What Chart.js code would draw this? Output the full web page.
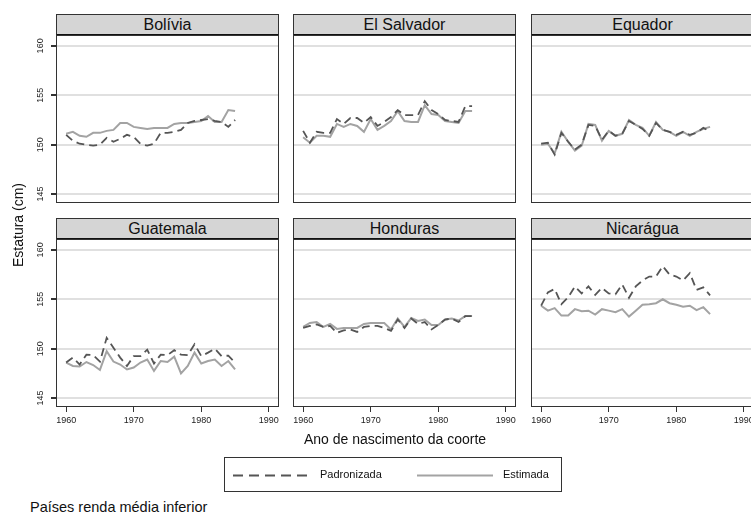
<!DOCTYPE html>
<html>
<head>
<meta charset="utf-8">
<script src="https://cdn.jsdelivr.net/npm/chart.js@4.4.1/dist/chart.umd.min.js"></script>
<style>
  html, body { margin:0; padding:0; }
  body { width:751px; height:515px; overflow:hidden; background:#fff; position:relative;
         font-family:'Liberation Sans', Arial, sans-serif; color:#111; }
  .hdr { position:absolute; box-sizing:border-box; background:#d5d5d5; border:1px solid #333;
         border-bottom:2px solid #111; text-align:center; font-size:16px; }
  canvas { position:absolute; }
  .txt { position:absolute; white-space:nowrap; }
</style>
</head>
<body>
<script>
// ---------- data ----------
const years = [1960,1961,1962,1963,1964,1965,1966,1967,1968,1969,1970,1971,1972,
               1973,1974,1975,1976,1977,1978,1979,1980,1981,1982,1983,1984,1985];
const countries = ['Bolívia','El Salvador','Equador','Guatemala','Honduras','Nicarágua'];
const seriesNames = ['Padronizada','Estimada'];
const yTicks = [145,150,155,160];
const xTicks = [1960,1970,1980,1990];

const bolPad = [151.0,150.4,150.1,150.0,149.9,150.0,150.7,150.3,150.6,151.0,150.8,150.1,149.9,150.1,151.2,151.2,151.3,151.5,152.2,152.4,152.5,152.6,152.4,152.3,151.8,152.5];
const bolEst = [151.1,151.3,150.9,150.8,151.2,151.2,151.4,151.5,152.2,152.2,151.8,151.7,151.6,151.7,151.7,151.7,152.1,152.2,152.2,152.3,152.4,152.9,152.3,152.3,153.5,153.4];
const elsPad = [151.4,150.2,151.3,151.2,151.2,152.6,152.1,152.7,152.7,152.2,152.8,151.9,152.3,152.8,153.5,153.0,153.0,153.0,154.4,153.5,153.1,152.5,152.4,152.3,153.9,153.9];
const elsEst = [150.75,150.2,150.9,150.9,150.8,152.1,151.8,152.1,151.9,151.3,152.6,151.5,151.9,152.4,153.4,152.4,152.3,152.3,154.0,153.1,153.0,152.4,152.3,152.2,153.4,153.4];
const equPad = [150.1,150.2,149.0,151.2,150.3,149.5,150.0,152.0,151.9,150.5,151.4,150.9,151.1,152.4,152.0,151.6,150.9,152.2,151.5,151.3,151.0,151.3,151.0,151.2,151.7,151.35];
const equEst = [150.0,150.1,149.1,151.3,150.3,149.4,149.9,152.1,152.0,150.4,151.4,150.9,151.1,152.5,152.0,151.7,150.9,152.3,151.5,151.3,150.9,151.3,150.9,151.3,151.6,151.8];
const guaPad = [148.6,149.1,148.4,149.4,149.35,148.7,151.1,150.1,149.1,148.25,149.25,149.25,149.9,148.5,149.4,149.35,149.85,149.4,149.35,150.45,149.25,149.6,150.0,149.25,149.3,148.6];
const guaEst = [148.6,148.25,148.2,148.65,148.35,147.85,149.75,148.7,148.4,147.9,148.1,148.6,148.9,147.75,148.75,148.65,149.2,147.5,148.25,149.6,148.5,148.75,148.9,148.25,148.75,147.9];
const honPad = [152.1,152.3,152.45,152.2,152.3,151.6,151.85,151.95,151.7,152.2,152.3,152.3,152.1,151.8,152.95,152.1,153.05,152.5,152.7,151.95,152.4,152.95,153.05,152.7,153.3,153.3];
const honEst = [152.2,152.6,152.7,152.2,152.5,152.0,152.1,152.1,152.1,152.5,152.6,152.6,152.6,151.95,153.05,152.2,153.1,152.8,152.95,152.4,152.4,152.95,153.05,152.85,153.3,153.3];
const nicPad = [154.35,155.7,156.05,154.5,155.2,156.3,155.6,156.3,155.45,156.15,155.6,155.5,156.5,155.15,156.3,156.9,157.3,157.3,158.35,157.5,157.3,156.9,157.65,155.95,156.2,155.4];
const nicEst = [154.35,153.85,154.1,153.35,153.35,154.0,153.8,153.85,153.45,154.0,153.85,153.7,154.0,153.25,153.85,154.45,154.5,154.6,155.0,154.6,154.45,154.25,154.35,153.9,154.2,153.5];

const padSeries = [bolPad, elsPad, equPad, guaPad, honPad, nicPad];
const estSeries = [bolEst, elsEst, equEst, guaEst, honEst, nicEst];

// ---------- layout ----------
const COL_X = [56, 293, 531];
const ROW_Y = [35, 239];
const PW = 223, PH = 168, HEAD = 21;
const PAD_COLOR = '#555555', EST_COLOR = '#a3a3a3';

const framePlugin = {
  id: 'frame',
  afterDraw(chart) {
    const a = chart.chartArea, ctx = chart.ctx;
    ctx.save();
    ctx.strokeStyle = '#333';
    ctx.lineWidth = 1;
    ctx.strokeRect(Math.round(a.left) + 0.5, Math.round(a.top) + 0.5,
                   Math.round(a.right - a.left) - 1, Math.round(a.bottom - a.top) - 1);
    if (chart.options.plugins.frame && chart.options.plugins.frame.yLabels) {
      const ys = chart.scales.y;
      ctx.fillStyle = '#222';
      ctx.font = '9px "Liberation Sans", Arial, sans-serif';
      ctx.textAlign = 'center';
      ctx.textBaseline = 'middle';
      ys.ticks.forEach(t => {
        const py = ys.getPixelForValue(t.value);
        ctx.save();
        ctx.translate(a.left - 15, py);
        ctx.rotate(-Math.PI / 2);
        ctx.fillText(String(t.value), 0, 0);
        ctx.restore();
      });
    }
    ctx.restore();
  }
};

countries.forEach((name, i) => {
  const col = i % 3, row = Math.floor(i / 3);
  const hdr = document.createElement('div');
  hdr.className = 'hdr';
  hdr.style.left = COL_X[col] + 'px';
  hdr.style.top = (ROW_Y[row] - HEAD) + 'px';
  hdr.style.width = PW + 'px';
  hdr.style.height = (HEAD + 1) + 'px';
  hdr.style.lineHeight = (HEAD - 2) + 'px';
  hdr.textContent = name;
  document.body.appendChild(hdr);

  const L = col === 0 ? 45 : 10, R = 20, T = 2, B = 30;
  const cv = document.createElement('canvas');
  cv.width = L + PW + R; cv.height = T + PH + B;
  cv.style.left = (COL_X[col] - L) + 'px';
  cv.style.top = (ROW_Y[row] - T) + 'px';
  cv.style.width = cv.width + 'px'; cv.style.height = cv.height + 'px';
  document.body.appendChild(cv);

  const showX = row === 1, showY = col === 0;
  new Chart(cv.getContext('2d'), {
    type: 'line',
    data: {
      datasets: [
        { label: seriesNames[0], data: years.map((y, k) => ({x: y, y: padSeries[i][k]})),
          borderColor: PAD_COLOR, borderWidth: 1.8, borderDash: [8, 5], pointRadius: 0, tension: 0, fill: false },
        { label: seriesNames[1], data: years.map((y, k) => ({x: y, y: estSeries[i][k]})),
          borderColor: EST_COLOR, borderWidth: 2, pointRadius: 0, tension: 0, fill: false }
      ]
    },
    options: {
      responsive: false, animation: false, devicePixelRatio: 1,
      layout: { padding: { left: 0, right: R, top: T, bottom: 0 } },
      plugins: { legend: { display: false }, tooltip: { enabled: false }, frame: { yLabels: showY } },
      scales: {
        x: {
          type: 'linear', min: 1958.5, max: 1991.5,
          afterBuildTicks: s => { s.ticks = xTicks.map(v => ({ value: v })); },
          afterFit: s => { s.height = B; },
          border: { display: false },
          grid: { drawOnChartArea: false, drawTicks: showX, tickLength: 5, tickColor: '#333', display: showX },
          ticks: { display: showX, maxRotation: 0, autoSkip: false, padding: 3, color: '#222',
                   font: { family: '"Liberation Sans", Arial, sans-serif', size: 9 },
                   callback: v => String(v) }
        },
        y: {
          min: 144.1, max: 161.1,
          afterBuildTicks: s => { s.ticks = yTicks.map(v => ({ value: v })); },
          afterFit: s => { s.width = L; },
          border: { display: false },
          grid: { color: '#e0e0e0', lineWidth: 2, drawTicks: showY, tickLength: 5, tickColor: '#333' },
          ticks: { display: false }
        }
      }
    },
    plugins: [framePlugin]
  });
});

// axis titles, legend, note
function addText(txt, css) {
  const d = document.createElement('div');
  d.className = 'txt'; d.textContent = txt;
  Object.assign(d.style, css);
  document.body.appendChild(d);
  return d;
}
addText('Ano de nascimento da coorte', { left: '295px', top: '431px', width: '200px', textAlign: 'center', fontSize: '14px' });
addText('Estatura (cm)', { left: '-32px', top: '217px', width: '100px', textAlign: 'center', fontSize: '14px',
                           transform: 'rotate(-90deg)', transformOrigin: '50% 50%' });

const leg = document.createElement('div');
Object.assign(leg.style, { position: 'absolute', left: '224px', top: '457px', width: '338px', height: '35px',
                           boxSizing: 'border-box', border: '1px solid #333' });
leg.innerHTML =
  '<svg width="336" height="33" style="position:absolute;left:0;top:0">' +
  '<line x1="8" y1="17.5" x2="84" y2="17.5" stroke="' + PAD_COLOR + '" stroke-width="1.8" stroke-dasharray="10,6"/>' +
  '<line x1="192" y1="17.5" x2="268" y2="17.5" stroke="' + EST_COLOR + '" stroke-width="2"/></svg>';
document.body.appendChild(leg);
addText(seriesNames[0], { left: '320px', top: '468px', fontSize: '11px' });
addText(seriesNames[1], { left: '503px', top: '468px', fontSize: '11px' });
addText('Países renda média inferior', { left: '30px', top: '499px', fontSize: '14.5px' });
</script>
</body>
</html>
